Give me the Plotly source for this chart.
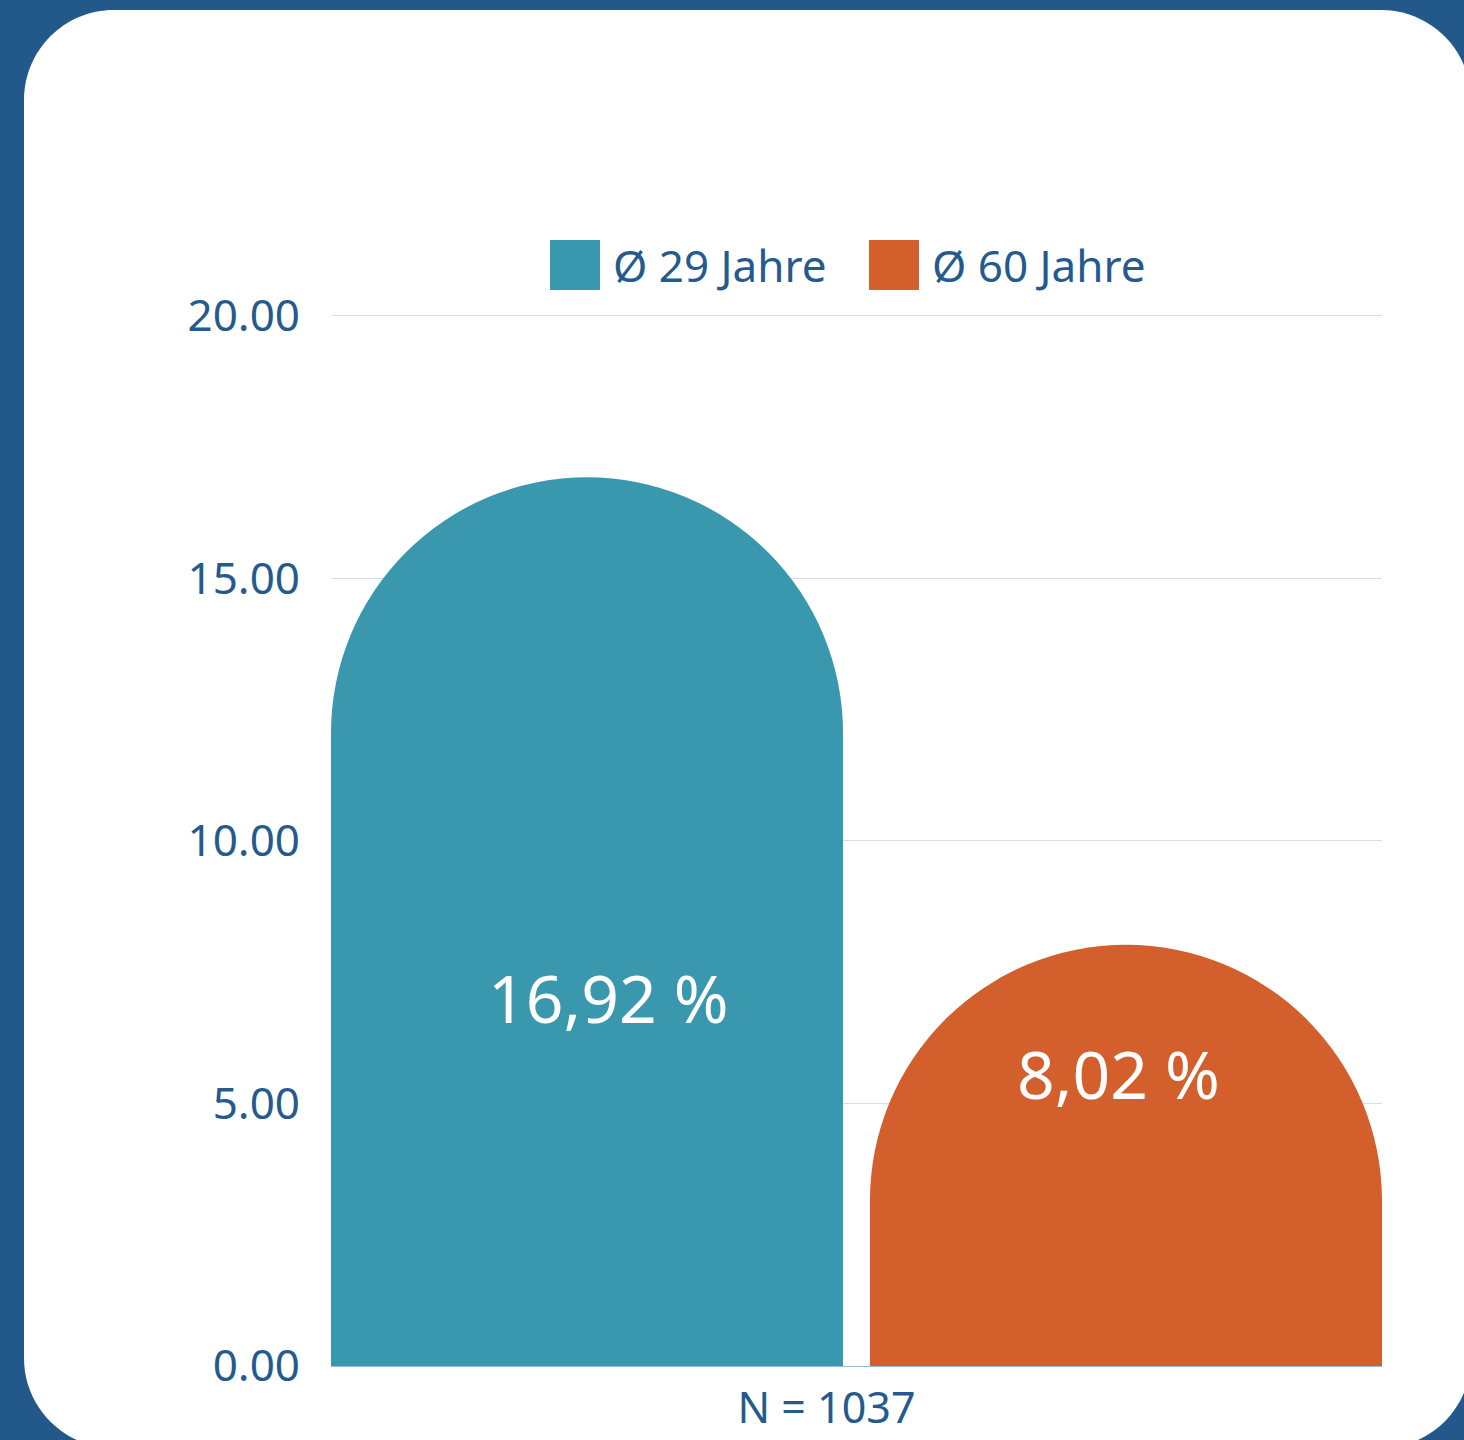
import plotly.graph_objects as go

# data
category = ["N = 1037"]
series_names = ["Ø 29 Jahre", "Ø 60 Jahre"]
series_values = [16.92, 8.02]
series_colors = ["#3a98ae", "#d35f2d"]
y_ticks = [0, 5, 10, 15, 20]

W, H = 1464, 1440
L, R, T, B = 331, 82, 305, 74
PW, PH = W - L - R, H - T - B
Y_MAX = 20.2

TXT = "#255a8c"
FONT = "Noto Sans"


def px(x):
    return (x - L) / PW


def py(y):
    return (H - B - y) / PH


def rounded_rect(x0, y0, x1, y1, r):
    k = 0.5523 * r
    pts = [
        f"M{px(x0 + r)},{py(y0)}",
        f"L{px(x1 - r)},{py(y0)}",
        f"C{px(x1 - r + k)},{py(y0)} {px(x1)},{py(y0 + r - k)} {px(x1)},{py(y0 + r)}",
        f"L{px(x1)},{py(y1 - r)}",
        f"C{px(x1)},{py(y1 - r + k)} {px(x1 - r + k)},{py(y1)} {px(x1 - r)},{py(y1)}",
        f"L{px(x0 + r)},{py(y1)}",
        f"C{px(x0 + r - k)},{py(y1)} {px(x0)},{py(y1 - r + k)} {px(x0)},{py(y1 - r)}",
        f"L{px(x0)},{py(y0 + r)}",
        f"C{px(x0)},{py(y0 + r - k)} {px(x0 + r - k)},{py(y0)} {px(x0 + r)},{py(y0)}",
        "Z",
    ]
    return " ".join(pts)


fig = go.Figure()

offsets = [-0.5, 0.0128]
for name, val, col, off in zip(series_names, series_values, series_colors, offsets):
    fig.add_trace(go.Bar(
        x=category,
        y=[val],
        name=name,
        width=0.4872,
        offset=off,
        marker=dict(color=col, cornerradius="50%", line=dict(width=0)),
        showlegend=False,
        hoverinfo="skip",
    ))

# white card behind the chart
shapes = [dict(
    type="path", xref="paper", yref="paper", layer="below",
    path=rounded_rect(24, 10, 1471, 1448, 90),
    fillcolor="white", line=dict(width=0),
)]

annotations = []

# hand-drawn legend (big squares)
legend_x = [550, 869]
for name, col, lx in zip(series_names, series_colors, legend_x):
    shapes.append(dict(
        type="rect", xref="paper", yref="paper",
        x0=px(lx), x1=px(lx + 50), y0=py(290), y1=py(240),
        fillcolor=col, line=dict(width=0),
    ))
    annotations.append(dict(
        xref="paper", yref="paper", x=px(lx + 61), y=py(265),
        xanchor="left", yanchor="middle", showarrow=False,
        text=name, font=dict(family=FONT, size=44, color=TXT),
    ))

# value labels inside bars
label_pos = [(608, 7.02), (1118, 5.58)]
for val, (lx, ly) in zip(series_values, label_pos):
    annotations.append(dict(
        xref="paper", yref="y", x=px(lx), y=ly,
        xanchor="center", yanchor="middle", showarrow=False,
        text=f"{val:.2f}".replace(".", ",") + " %",
        font=dict(family=FONT, size=66, color="white"),
    ))

fig.update_layout(
    width=W, height=H,
    margin=dict(l=L, r=R, t=T, b=B, pad=0, autoexpand=False),
    paper_bgcolor="#22588a",
    plot_bgcolor="white",
    barmode="overlay",
    shapes=shapes,
    annotations=annotations,
    font=dict(family=FONT, color=TXT),
    xaxis=dict(
        type="category", range=[-0.5, 0.5],
        showgrid=False, showline=False, zeroline=False,
        ticks="", tickfont=dict(size=43, color=TXT),
        ticklabelshift=-30, ticklabelstandoff=13,
        automargin=False, fixedrange=True,
    ),
    yaxis=dict(
        range=[0, Y_MAX], tickvals=y_ticks, tickformat=".2f",
        showgrid=True, gridcolor="#d4dee9", gridwidth=1,
        zeroline=True, zerolinecolor="#9db9d5", zerolinewidth=1,
        showline=False, ticks="", ticklabelstandoff=30,
        tickfont=dict(size=44, color=TXT),
        automargin=False, layer="below traces", fixedrange=True,
    ),
)

fig.write_html(
    "out.html",
    config={"displayModeBar": False},
    post_script="document.body.style.margin='0';",
)
